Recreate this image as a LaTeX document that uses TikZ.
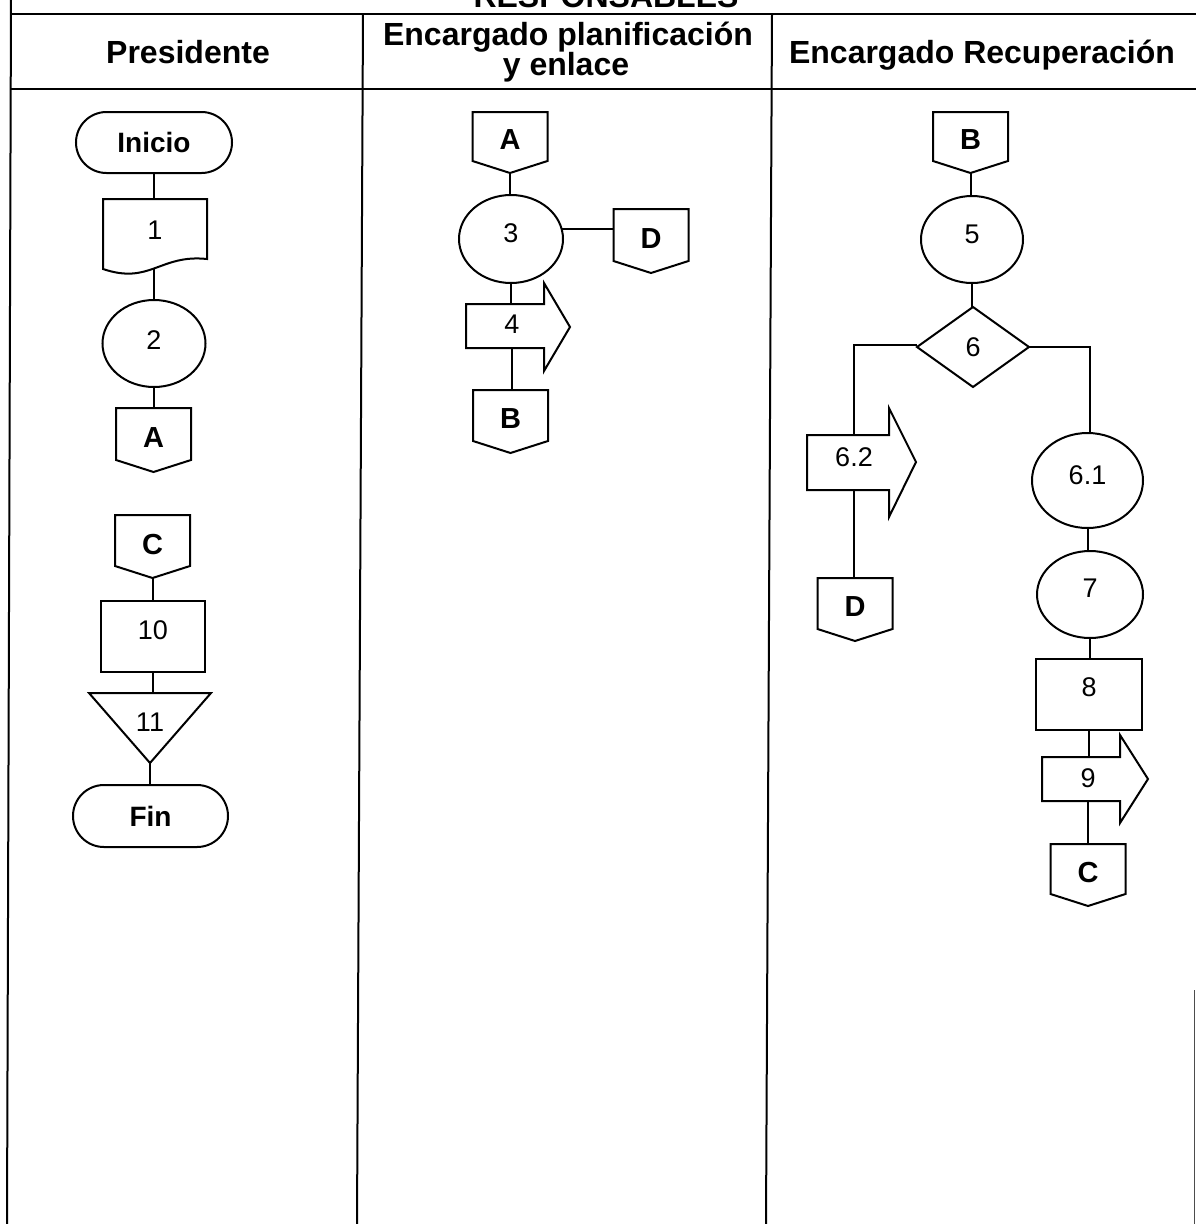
\documentclass[tikz,border=0pt]{standalone}
\usepackage{fontspec}
\setmainfont{Liberation Sans}
\usetikzlibrary{shapes.geometric,shapes.misc}
\pgfdeclarelayer{paper}
\pgfdeclarelayer{background}
\pgfdeclarelayer{shapes}
\pgfsetlayers{paper,background,shapes,main}
\tikzset{
  tbl/.style={line width=2pt},
  conn/.style={line width=2pt},
  shp/.style={draw, line width=2pt, fill=white, inner sep=0pt, outer sep=0pt},
  shpline/.style={draw, line width=2pt, fill=white},
  ghost/.style={inner sep=0pt, outer sep=0pt},
  numtxt/.style={font=\fontsize{27}{30}\selectfont},
  lettr/.style={font=\fontsize{29}{30}\selectfont\bfseries},
  termtxt/.style={font=\fontsize{28}{30}\selectfont\bfseries},
  hdr/.style={font=\fontsize{32}{30}\selectfont\bfseries, inner sep=0pt, anchor=base},
  term/.style={shp, rounded rectangle, termtxt},
  oval/.style={shp, ellipse, numtxt},
  procbox/.style={shp, rectangle, numtxt},
}
% off-page connector: name, center x, top y, height, text
\newcommand\offpg[5]{%
  \node[ghost, lettr, minimum width=75pt, minimum height=#4pt, text depth=5pt] (#1) at (#2,#3+#4/2) {#5};
  \begin{pgfonlayer}{shapes}
    \draw[shpline] (#1.north west) -- (#1.north east) -- ([yshift=12pt]#1.south east)
      -- (#1.south) -- ([yshift=12pt]#1.south west) -- cycle;
  \end{pgfonlayer}}
\begin{document}
\begin{tikzpicture}[x=1pt,y=-1pt]
\useasboundingbox (0,0) rectangle (1196,1224);
\clip (0,0) rectangle (1196,1224);
\begin{pgfonlayer}{paper}
  \fill[white] (0,0) rectangle (1196,1224);
\end{pgfonlayer}

% ---------- table ----------
\draw[tbl] (11,0) -- (7,1224);
\draw[tbl] (363,14) -- (357,1224);
\draw[tbl] (772,14) -- (766,1224);
\draw[tbl] (11,14) -- (1196,14);
\draw[tbl] (11,89) -- (1196,89);
\draw[line width=1.5pt, black!70] (1194.5,990) -- (1194.5,1224);

\node[hdr] (hres) at (606,7) {RESPONSABLES};
\node[hdr] (hpres) at (188,63) {Presidente};
\node[hdr] (hplan1) at (568,45) {Encargado planificación};
\node[hdr] (hplan2) at (566,75) {y enlace};
\node[hdr] (hrec) at (982,63) {Encargado Recuperación};

% ---------- Presidente ----------
\node[term, minimum width=156pt, minimum height=61pt] (ini) at (154,142.5) {Inicio};
\node[ghost, numtxt, minimum width=104pt, minimum height=70pt, text depth=8pt] (d1) at (155,234) {1};
\begin{pgfonlayer}{shapes}
  \draw[shpline] (103,199) -- (207,199) -- (207,259)
    .. controls (160,254) and (150,285) .. (103,269) -- cycle;
\end{pgfonlayer}
\node[oval, minimum width=103pt, minimum height=87pt, text depth=6pt] (c2) at (154,343.5) {2};
\offpg{A1}{153.5}{408}{64}{A}
\offpg{C1}{152.5}{515}{63}{C}
\node[procbox, minimum width=104pt, minimum height=71pt, text depth=13pt] (b10) at (153,636.5) {10};
\node[ghost, numtxt, minimum width=122pt, minimum height=70pt, text depth=12pt] (t11) at (150,728) {11};
\begin{pgfonlayer}{shapes}
  \draw[shpline] (t11.north west) -- (t11.north east) -- (t11.south) -- cycle;
\end{pgfonlayer}
\node[term, minimum width=155pt, minimum height=62pt] (fin) at (150.5,816) {Fin};

% ---------- Encargado planificacion ----------
\offpg{A2}{510}{112}{61}{A}
\node[oval, minimum width=104pt, minimum height=88pt, text depth=12pt] (c3) at (511,239) {3};
\offpg{D1}{651}{209}{64}{D}
\node[ghost, numtxt, minimum width=92pt, minimum height=44pt, text depth=4pt] (a4) at (512,326) {4};
\begin{pgfonlayer}{shapes}
  \draw[shpline] (466,304) -- (544,304) -- (544,283) -- (570,327) -- (544,371)
    -- (544,348) -- (466,348) -- cycle;
\end{pgfonlayer}
\offpg{B1}{510.5}{390}{63}{B}

% ---------- Encargado Recuperacion ----------
\offpg{B2}{970.5}{112}{61}{B}
\node[oval, minimum width=102pt, minimum height=87pt, text depth=10pt] (c5) at (972,239.5) {5};
\node[shp, diamond, numtxt, minimum width=112pt, minimum height=80pt] (dia6) at (973,347) {6};
\node[ghost, numtxt, minimum width=94pt, minimum height=55pt, text depth=10pt] (a62) at (854,462.5) {6.2};
\begin{pgfonlayer}{shapes}
  \draw[shpline] (807,435) -- (889,435) -- (889,408) -- (916,462) -- (889,517)
    -- (889,490) -- (807,490) -- cycle;
\end{pgfonlayer}
\node[oval, minimum width=111pt, minimum height=95pt, text depth=11pt] (c61) at (1087.5,480.5) {6.1};
\offpg{D2}{855}{578}{63}{D}
\node[oval, minimum width=106pt, minimum height=87pt, text depth=13pt] (c7) at (1090,594.5) {7};
\node[procbox, minimum width=106pt, minimum height=71pt, text depth=15pt] (b8) at (1089,694.5) {8};
\node[ghost, numtxt, minimum width=92pt, minimum height=44pt, text depth=2pt] (a9) at (1088,779) {9};
\begin{pgfonlayer}{shapes}
  \draw[shpline] (1042,757) -- (1120,757) -- (1120,735) -- (1148,779) -- (1120,823)
    -- (1120,801) -- (1042,801) -- cycle;
\end{pgfonlayer}
\offpg{C2}{1088}{844}{62}{C}

% ---------- connectors ----------
\begin{pgfonlayer}{background}
  \draw[conn] (ini.south) -- (ini.south |- d1.north);
  \draw[conn] (c2.north) -- (c2.north |- d1.south);
  \draw[conn] (c2.south) -- (c2.south |- A1.north);
  \draw[conn] (C1.south) -- (C1.south |- b10.north);
  \draw[conn] (b10.south) -- (b10.south |- t11.north);
  \draw[conn] (t11.south) -- (t11.south |- fin.north);
  \draw[conn] (A2.south) -- (A2.south |- c3.north);
  \draw[conn] ([yshift=12pt]D1.west) -- ([yshift=12pt]D1.west -| c3.center);
  \draw[conn] (c3.south) -- (c3.south |- a4.north);
  \draw[conn] (a4.south) -- (a4.south |- B1.north);
  \draw[conn] (B2.south) -- (B2.south |- c5.north);
  \draw[conn] (c5.south) -- (c5.south |- dia6.north);
  \draw[conn] ([yshift=2pt]dia6.west) -| (a62.north);
  \draw[conn] (dia6.east) -| ([xshift=2pt]c61.north);
  \draw[conn] (a62.south) -- (a62.south |- D2.north);
  \draw[conn] (c61.south) -- (c61.south |- c7.north);
  \draw[conn] (c7.south) -- (c7.south |- b8.north);
  \draw[conn] (b8.south) -- (b8.south |- a9.north);
  \draw[conn] (a9.south) -- (a9.south |- C2.north);
\end{pgfonlayer}
\end{tikzpicture}
\end{document}
